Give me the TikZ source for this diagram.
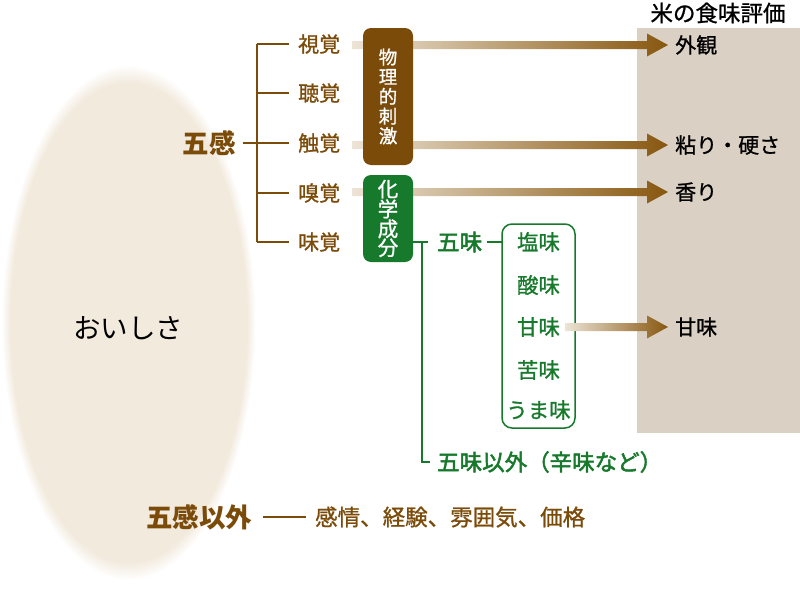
\documentclass[tikz,border=0pt]{standalone}
\usepackage{fontspec}
\setmainfont{Noto Sans CJK JP}
\newfontfamily\jpm{Noto Sans CJK JP}[FakeBold=1.0]
\newfontfamily\jpb{Noto Sans CJK JP}[FakeBold=2.2]
\usetikzlibrary{calc}
\definecolor{brn}{HTML}{7B4B0A}
\definecolor{grn}{HTML}{17792B}
\definecolor{panel}{HTML}{DAD0C3}
\definecolor{rice}{HTML}{F2EADD}
\definecolor{arlight}{HTML}{EDE4D6}
\definecolor{ardark}{HTML}{87570F}
\pgfdeclareradialshading{ricesoft}{\pgfpoint{0bp}{0bp}}{color(0bp)=(rice); color(23.3bp)=(rice); color(25bp)=(white); color(50bp)=(white)}
\tikzset{
  sense/.style={inner sep=0, anchor=west, text=brn, font=\jpm\fontsize{21}{21}\selectfont},
  big/.style={inner sep=0, text=brn, font=\bfseries\fontsize{26.5}{26.5}\selectfont},
  vbox/.style={inner sep=0, rounded corners=8pt, minimum width=50pt, text=white, align=center},
  taste/.style={inner sep=0, text=grn, font=\jpm\fontsize{21.5}{21.5}\selectfont},
  res/.style={inner sep=0, anchor=west, text=black, font=\jpm\fontsize{21}{21}\selectfont},
  brline/.style={draw=brn, line width=1.6pt},
  grline/.style={draw=grn, line width=1.5pt},
  grad/.style={left color=arlight, right color=ardark},
}
\newcommand\gradarrow[2]{%
  \shade[grad] let \p1=(#1), \p2=(#2) in
    (\x1,\y1+4pt) -- (\x2-21pt,\y1+4pt) -- (\x2-21pt,\y1+11.5pt) -- (\x2,\y1)
    -- (\x2-21pt,\y1-11.5pt) -- (\x2-21pt,\y1-4pt) -- (\x1,\y1-4pt) -- cycle;}
\begin{document}
\begin{tikzpicture}[x=1pt,y=-1pt]
\useasboundingbox (0,0) rectangle (800,589);
% rice grain
\shade[shading=ricesoft] (128.5,322.5) ellipse [x radius=127pt, y radius=257.5pt];
\node[inner sep=0, font=\fontsize{27.5}{27.5}\selectfont] (oishisa) at (128,328) {おいしさ};
% evaluation panel
\fill[panel] (637,28) rectangle (800,433);
\node[inner sep=0, font=\jpm\fontsize{22.5}{22.5}\selectfont] (title) at (718,13) {米の食味評価};
% five senses tree
\node[big] (gokan) at (209,143) {五感};
\node[sense] (shikaku) at (298,44) {視覚};
\node[sense] (choukaku) at (298,93) {聴覚};
\node[sense] (shokkaku) at (298,143) {触覚};
\node[sense] (kyuukaku) at (298,193) {嗅覚};
\node[sense] (mikaku) at (298,242) {味覚};
\coordinate (tr1) at (257,44);
\coordinate (tr5) at (257,242);
\draw[brline] (tr1) -- (tr5);
\draw[brline] ([xshift=7pt]gokan.east) -- (257,143);
\foreach \n in {shikaku,choukaku,shokkaku,kyuukaku,mikaku}
  \draw[brline] (257,0 |- \n.west) -- ([xshift=-9pt]\n.west);
% result labels
\node[res] (gaikan) at (675,45) {外観};
\node[res] (nebari) at (675,145) {粘り・硬さ};
\node[res] (kaori) at (675,192) {香り};
\node[res] (amaR) at (675,327) {甘味};
% gradient arrows (behind boxes)
\coordinate (s1) at (352,45);
\coordinate (s2) at (352,145);
\coordinate (s3) at (352,192);
\gradarrow{s1}{[xshift=-7pt]gaikan.west}
\gradarrow{s2}{[xshift=-7pt]nebari.west}
\gradarrow{s3}{[xshift=-7pt]kaori.west}
% stimulus boxes
\node[vbox, fill=brn, minimum height=137pt, font=\jpm\fontsize{18.5}{19.7}\selectfont] (butsuri) at (388,96.5) {物\\理\\的\\刺\\激};
\node[vbox, fill=grn, minimum height=87pt, font=\jpm\fontsize{20.5}{18.8}\selectfont] (kagaku) at (388,218.5) {化\\学\\成\\分};
% chemical branch
\node[inner sep=0, anchor=west, text=grn, font=\jpb\fontsize{22.5}{22.5}\selectfont] (gomi) at (437,242) {五味};
\node[inner sep=0, anchor=west, text=grn, font=\jpb\fontsize{22.5}{22.5}\selectfont] (gomiigai) at (437,462) {五味以外（辛味など）};
\draw[grline] (kagaku.east |- 0,242) -- (428,242);
\draw[grline] (422,242) -- (422,462) -- ([xshift=-7pt]gomiigai.west);
\draw[grline, rounded corners=10pt] (502,224) rectangle (575,428);
\draw[grline] ([xshift=5pt]gomi.east) -- (502,242);
\node[taste] (en) at (538.5,242) {塩味};
\node[taste] (san) at (538.5,285) {酸味};
\node[taste] (ama) at (538.5,327) {甘味};
\node[taste] (ku) at (538.5,370) {苦味};
\node[taste] (uma) at (538.5,410) {うま味};
\coordinate (s4) at (565,327);
\gradarrow{s4}{[xshift=-7pt]amaR.west}
% other than five senses
\node[big] (igai) at (199,517) {五感以外};
\node[inner sep=0, anchor=west, text=brn, font=\jpm\fontsize{22.5}{22.5}\selectfont] (others) at (315,517) {感情、経験、雰囲気、価格};
\draw[draw=brn, line width=1.3pt] ([xshift=11pt]igai.east) -- ([xshift=-9pt]others.west);
\end{tikzpicture}
\end{document}
